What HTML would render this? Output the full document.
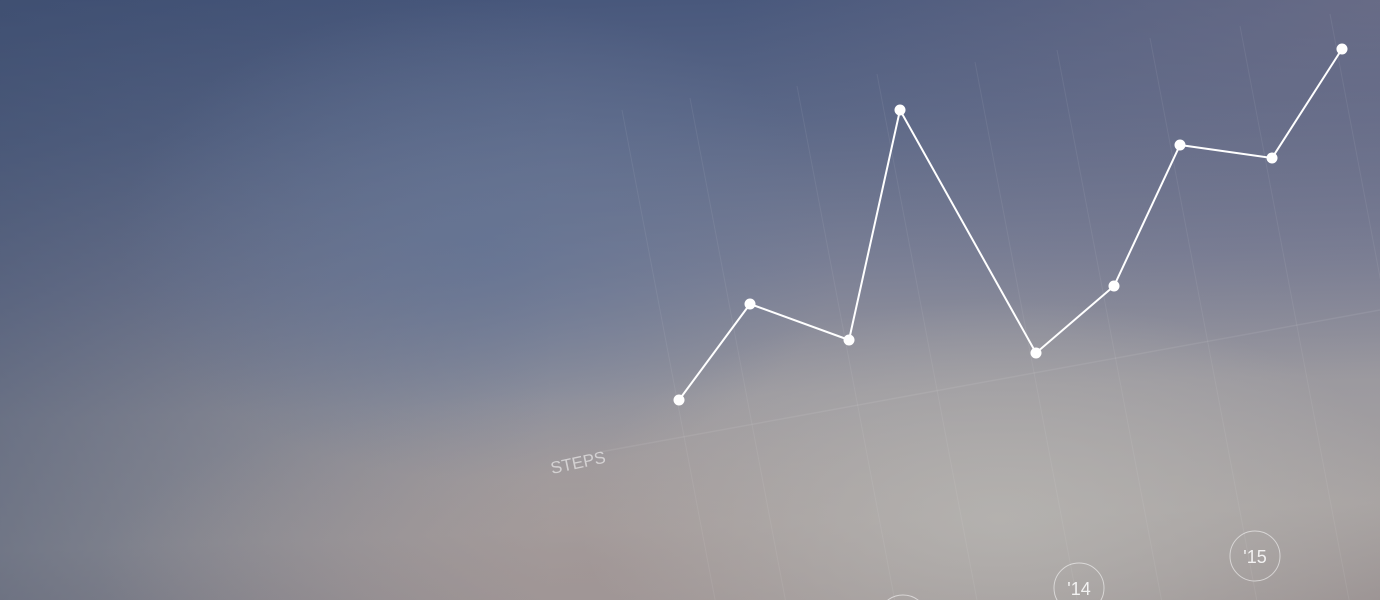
<!DOCTYPE html>
<html><head><meta charset="utf-8"><style>
html,body{margin:0;padding:0;width:1380px;height:600px;overflow:hidden;position:relative}
#bg{position:absolute;left:0;top:0;width:1380px;height:600px;
background:
radial-gradient(ellipse 420px 220px at 1000px 520px, rgba(182,180,177,0.85), rgba(182,180,177,0) 100%),
radial-gradient(ellipse 500px 180px at 600px 570px, rgba(160,148,148,0.7), rgba(160,148,148,0) 100%),
radial-gradient(ellipse 360px 240px at 480px 240px, rgba(100,116,148,0.8), rgba(100,116,148,0) 100%),
radial-gradient(ellipse 650px 380px at 1380px 0px, rgba(115,114,138,0.7), rgba(115,114,138,0) 100%),
linear-gradient(to right, rgba(58,74,106,0.5) 0%, rgba(58,74,106,0) 40%),
linear-gradient(178deg, #45557a 0%, #5a6787 22%, #7a7f95 45%, #9b999f 65%, #a8a3a2 85%, #9c9494 100%);}
svg{position:absolute;left:0;top:0;overflow:hidden}
text{font-family:"Liberation Sans",sans-serif}
</style></head><body>
<div id="bg"></div>
<svg id="chart" width="1380" height="600"></svg>
<script>
const days=[0,71,170,221,357,435,501,593,663];
const steps=[5,29,20,77.5,16.75,33.5,68.75,65.5,92.75];
const yearLabels=["'13","'14","'15"];
const yearDays=[224,400,576];
const gridDays=[-57,11,118,198,296,378,471,561,651];
const NS="http://www.w3.org/2000/svg";
const svg=document.getElementById('chart');
function xs(d){return 679+d;}
function ys(v){return 420-v*4;}
function mk(t,a){const e=document.createElementNS(NS,t);for(const k in a)e.setAttribute(k,a[k]);svg.appendChild(e);return e;}
gridDays.forEach((d,i)=>{
  const x0=xs(d);
  const l=mk('line',{x1:x0,y1:110-i*12,x2:x0+(600-110+i*12)*0.19,y2:600,stroke:'rgba(255,255,255,0.07)','stroke-width':1});
  
  
});
const base=mk('line',{x1:600,y1:452,x2:1380,y2:310,stroke:'rgba(255,255,255,0.08)','stroke-width':1.5});


const lab=mk('text',{x:552,y:474,fill:'rgba(255,255,255,0.55)','font-size':17,transform:'rotate(-12 552 474)'});
lab.textContent='STEPS';


const pts=days.map((d,i)=>xs(d)+','+ys(steps[i])).join(' ');
const pl=mk('polyline',{points:pts,fill:'none',stroke:'#fff','stroke-width':2});


days.forEach((d,i)=>{
  const c=mk('circle',{cx:xs(d),cy:ys(steps[i]),r:5.5,fill:'#fff'});
  
  
});
yearLabels.forEach((t,i)=>{
  const x=xs(yearDays[i]);
  const y=620-i*32;
  const c=mk('circle',{cx:x,cy:y,r:25,fill:'none',stroke:'rgba(255,255,255,0.55)','stroke-width':1});
  
  
  const tx=mk('text',{x:x,y:y+7,fill:'rgba(255,255,255,0.85)','font-size':18,'text-anchor':'middle'});
  tx.textContent=t;
  
  
});
</script>
</body></html>
